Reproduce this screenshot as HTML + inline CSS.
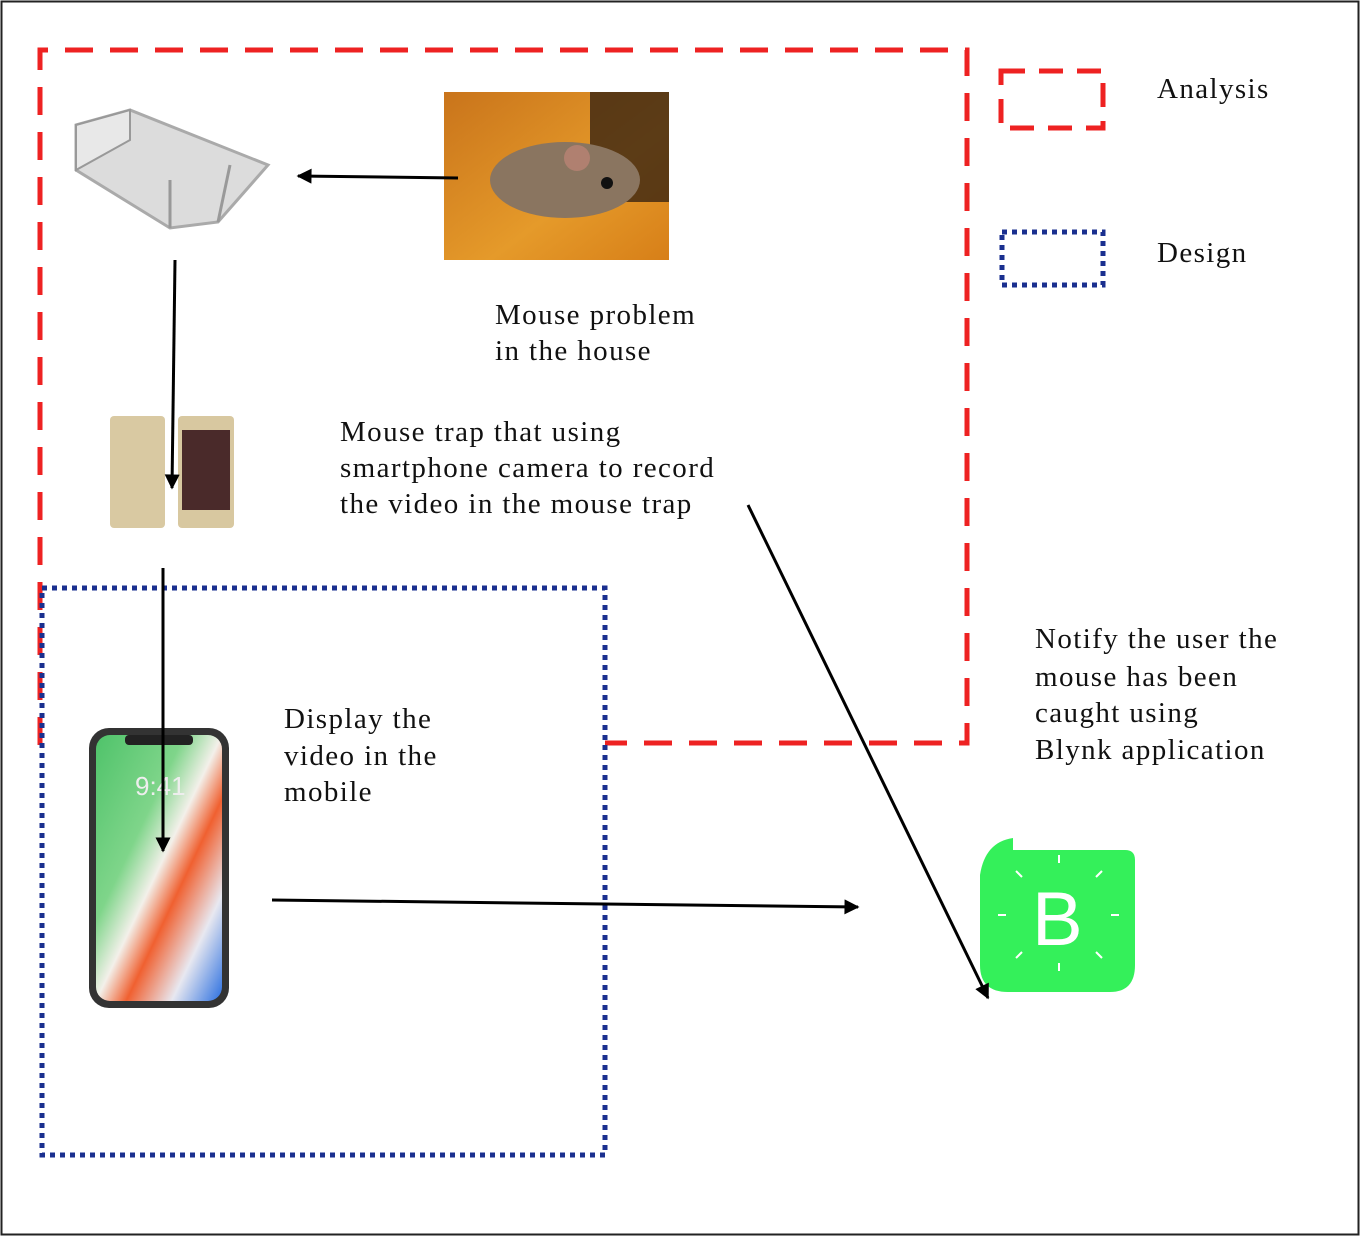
<!DOCTYPE html>
<html><head><style>
html,body{margin:0;padding:0;background:#fff;}
svg{display:block;}
text{font-family:"Liberation Serif",serif;font-size:29px;fill:#111;letter-spacing:1.4px;}
</style></head><body>
<svg width="1363" height="1238" viewBox="0 0 1363 1238" xmlns="http://www.w3.org/2000/svg">
<defs>
<marker id="ah" viewBox="0 0 10 10" refX="9" refY="5" markerWidth="20" markerHeight="15" orient="auto" markerUnits="userSpaceOnUse">
<path d="M0,0 L10,5 L0,10 z" fill="#000"/></marker>
<linearGradient id="bg1" x1="0" y1="0" x2="1" y2="1"><stop offset="0" stop-color="#c9741b"/><stop offset="0.6" stop-color="#e59a2a"/><stop offset="1" stop-color="#d77f18"/></linearGradient>
<linearGradient id="ip" x1="0" y1="0" x2="1" y2="1"><stop offset="0" stop-color="#4fc36a"/><stop offset="0.35" stop-color="#7fd58a"/><stop offset="0.5" stop-color="#f3f0ea"/><stop offset="0.62" stop-color="#f06030"/><stop offset="0.8" stop-color="#e8e8f0"/><stop offset="1" stop-color="#2b6fe0"/></linearGradient>
</defs>
<rect x="1.5" y="1.5" width="1357" height="1233" fill="none" stroke="#222" stroke-width="2"/>
<path d="M40,745 L40,50 L967,50 L967,743 L605,743" fill="none" stroke="#ee2222" stroke-width="5" stroke-dasharray="28,17"/>
<rect x="42" y="588" width="563" height="567" fill="none" stroke="#1a2f8f" stroke-width="5" stroke-dasharray="5,5"/>
<rect x="1001" y="71" width="102" height="57" fill="none" stroke="#ee2222" stroke-width="5" stroke-dasharray="24,14"/>
<rect x="1002" y="232" width="101" height="53" fill="none" stroke="#1a2f8f" stroke-width="5" stroke-dasharray="5,5"/>
<text x="1157" y="98">Analysis</text>
<text x="1157" y="262">Design</text>
<g stroke="#aaa" stroke-width="3" fill="#dcdcdc">
<polygon points="76,125 130,110 268,165 218,222 170,228 76,170"/>
</g>
<polygon points="76,125 130,110 130,140 76,170" fill="#e8e8e8" stroke="#999" stroke-width="2"/>
<line x1="170" y1="228" x2="170" y2="180" stroke="#999" stroke-width="3"/>
<line x1="218" y1="222" x2="230" y2="165" stroke="#999" stroke-width="3"/>
<rect x="444" y="92" width="225" height="168" fill="url(#bg1)"/>
<rect x="590" y="92" width="79" height="110" fill="#3a2412" opacity="0.8"/>
<ellipse cx="565" cy="180" rx="75" ry="38" fill="#8a7560"/>
<circle cx="577" cy="158" r="13" fill="#b08070"/>
<circle cx="607" cy="183" r="6" fill="#111"/>
<rect x="110" y="416" width="55" height="112" rx="4" fill="#d9c9a2"/>
<rect x="178" y="416" width="56" height="112" rx="4" fill="#d8c8a0"/>
<rect x="182" y="430" width="48" height="80" fill="#4a2a2a"/>
<rect x="89" y="728" width="140" height="280" rx="20" fill="#333"/>
<rect x="96" y="735" width="126" height="266" rx="14" fill="url(#ip)"/>
<rect x="125" y="735" width="68" height="10" rx="4" fill="#222"/>
<text x="135" y="795" style="font-family:'Liberation Sans',sans-serif;font-size:26px;fill:#eee;letter-spacing:0">9:41</text>
<path d="M1013,838 Q985,842 980,875 L980,965 Q980,992 1008,992 L1110,992 Q1135,992 1135,965 L1135,860 Q1135,850 1125,850 L1013,850 Z" fill="#34f05a"/>
<text x="1032" y="945" style="font-family:'Liberation Sans',sans-serif;font-size:76px;fill:#fff;letter-spacing:0">B</text>
<g stroke="#fff" stroke-width="2">
<line x1="1059" y1="855" x2="1059" y2="863"/><line x1="1059" y1="963" x2="1059" y2="971"/>
<line x1="998" y1="915" x2="1006" y2="915"/><line x1="1111" y1="915" x2="1119" y2="915"/>
<line x1="1016" y1="871" x2="1022" y2="877"/><line x1="1096" y1="877" x2="1102" y2="871"/>
<line x1="1016" y1="958" x2="1022" y2="952"/><line x1="1096" y1="952" x2="1102" y2="958"/>
</g>
<g stroke="#000" stroke-width="3" fill="none" marker-end="url(#ah)">
<line x1="458" y1="178" x2="298" y2="176"/>
<line x1="175" y1="260" x2="172" y2="488"/>
<line x1="163" y1="568" x2="163" y2="851"/>
<line x1="272" y1="900" x2="858" y2="907"/>
<line x1="748" y1="505" x2="988" y2="998"/>
</g>
<text x="495" y="324">Mouse problem</text>
<text x="495" y="360">in the house</text>
<text x="340" y="441">Mouse trap that using</text>
<text x="340" y="477">smartphone camera to record</text>
<text x="340" y="513">the video in the mouse trap</text>
<text x="284" y="728">Display the</text>
<text x="284" y="765">video in the</text>
<text x="284" y="801">mobile</text>
<text x="1035" y="648">Notify the user the</text>
<text x="1035" y="686">mouse has been</text>
<text x="1035" y="722">caught using</text>
<text x="1035" y="759">Blynk application</text>
</svg>
</body></html>
